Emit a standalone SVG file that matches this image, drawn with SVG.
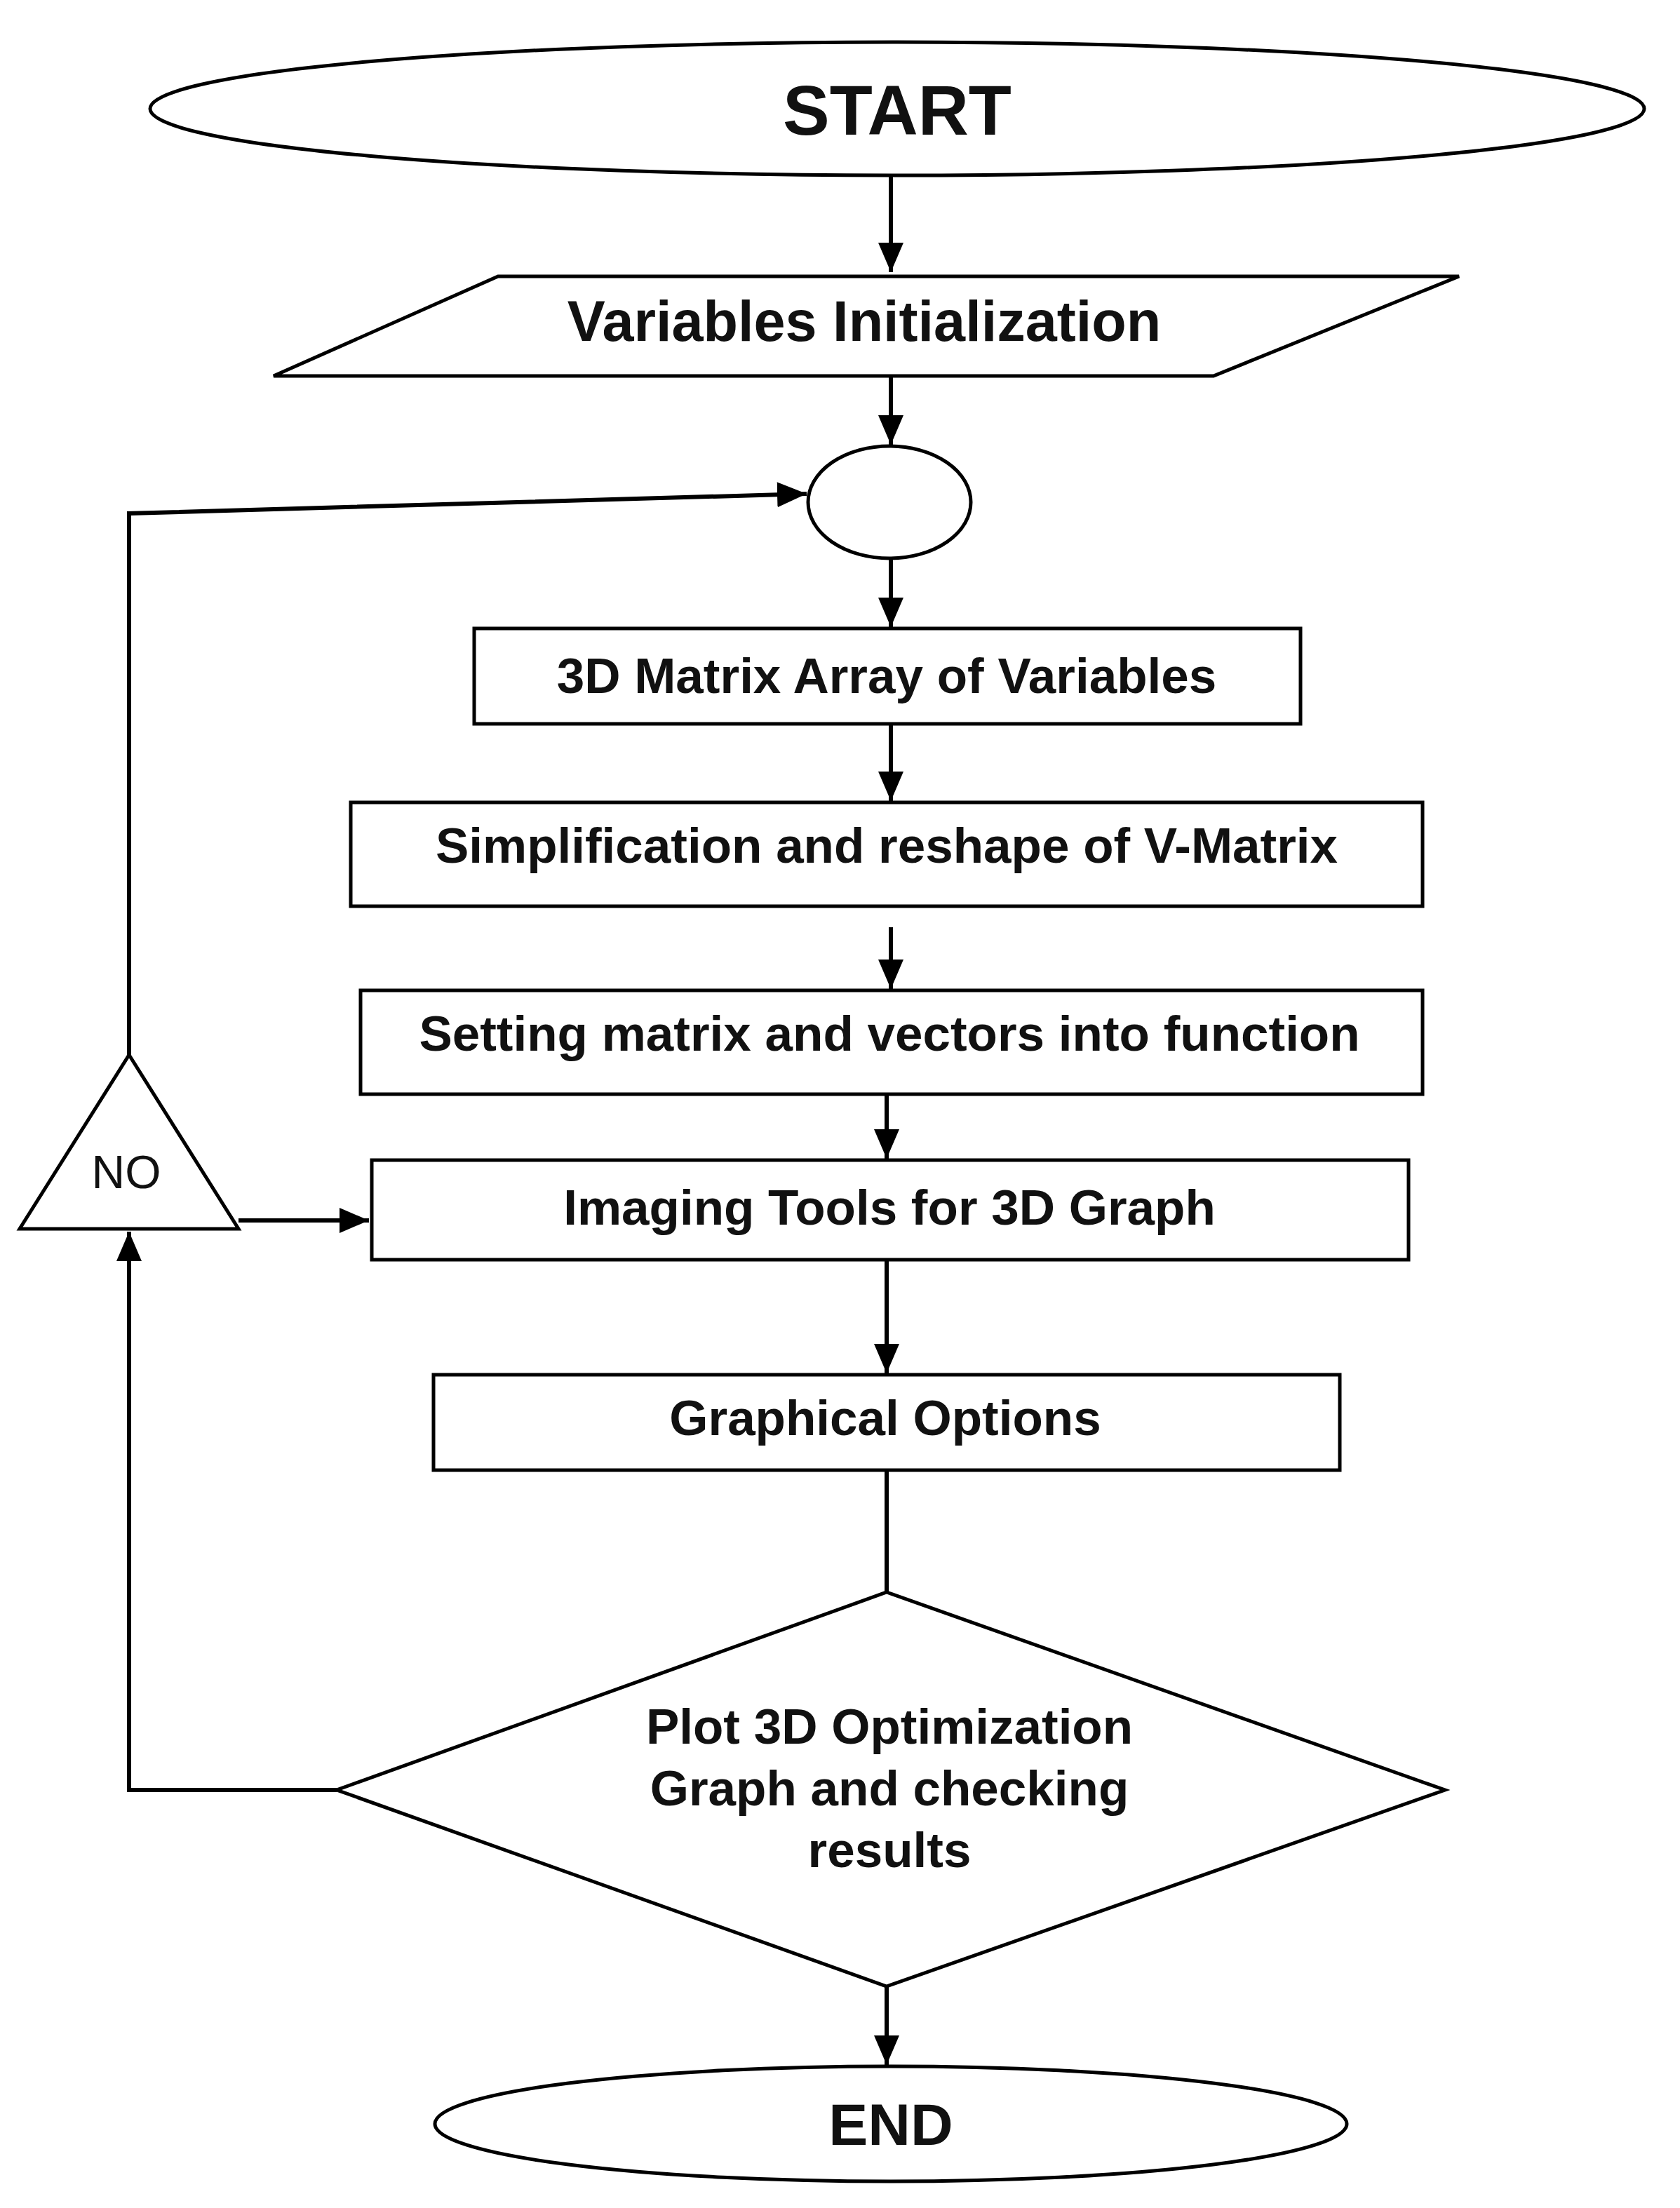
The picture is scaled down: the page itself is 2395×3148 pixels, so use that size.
<svg xmlns="http://www.w3.org/2000/svg" width="2395" height="3148" viewBox="0 0 2395 3148">
<style>
.s{fill:#fff;stroke:#000;stroke-width:5}
.c{fill:none;stroke:#000;stroke-width:6}
text{font-family:"Liberation Sans",Arial,sans-serif;font-weight:bold;text-anchor:middle;fill:#111}
.t{font-size:71px}
</style>
<defs><marker id="a" markerWidth="8" markerHeight="8" refX="7" refY="4" orient="auto" markerUnits="strokeWidth"><path d="M0,1 L7,4 L0,7 z" fill="#000"/></marker></defs>
<rect width="2395" height="3148" fill="#fff"/>
<g id="connectors">
<line class="c" x1="1270" y1="250" x2="1270" y2="388" marker-end="url(#a)"/>
<line class="c" x1="1270" y1="536" x2="1270" y2="634" marker-end="url(#a)"/>
<line class="c" x1="1270" y1="796" x2="1270" y2="894" marker-end="url(#a)"/>
<line class="c" x1="1270" y1="1032" x2="1270" y2="1142" marker-end="url(#a)"/>
<line class="c" x1="1270" y1="1322" x2="1270" y2="1410" marker-end="url(#a)"/>
<line class="c" x1="1264" y1="1560" x2="1264" y2="1652" marker-end="url(#a)"/>
<line class="c" x1="1264" y1="1796" x2="1264" y2="1958" marker-end="url(#a)"/>
<line class="c" x1="1264" y1="2096" x2="1264" y2="2270"/>
<line class="c" x1="1264" y1="2832" x2="1264" y2="2944" marker-end="url(#a)"/>
<polyline class="c" points="480,2552 184,2552 184,1756" marker-end="url(#a)"/>
<polyline class="c" points="184,1504 184,732 1150,704" marker-end="url(#a)"/>
<line class="c" x1="340" y1="1740" x2="526" y2="1740" marker-end="url(#a)"/>
</g>
<g id="start"><ellipse class="s" cx="1279" cy="155" rx="1065" ry="95"/><text x="1279" y="192" style="font-size:100px">START</text></g>
<g id="init"><polygon class="s" points="710,394 2080,394 1730,536 390,536"/><text x="1232" y="486" style="font-size:81px">Variables Initialization</text></g>
<g id="connector-circle"><ellipse class="s" cx="1268" cy="716" rx="116" ry="80"/></g>
<g id="box1"><rect class="s" x="676" y="896" width="1178" height="136"/><text class="t" x="1264" y="988">3D Matrix Array of Variables</text></g>
<g id="box2"><rect class="s" x="500" y="1144" width="1528" height="148"/><text class="t" x="1264" y="1230">Simplification and reshape of V-Matrix</text></g>
<g id="box3"><rect class="s" x="514" y="1412" width="1514" height="148"/><text class="t" x="1268" y="1498">Setting matrix and vectors into function</text></g>
<g id="box4"><rect class="s" x="530" y="1654" width="1478" height="142"/><text class="t" x="1268" y="1746">Imaging Tools for 3D Graph</text></g>
<g id="box5"><rect class="s" x="618" y="1960" width="1292" height="136"/><text class="t" x="1262" y="2046">Graphical Options</text></g>
<g id="decision"><polygon class="s" points="1264,2270 2060,2552 1264,2832 480,2552"/>
<text class="t" x="1268" y="2486">Plot 3D Optimization</text><text class="t" x="1268" y="2574">Graph and checking</text><text class="t" x="1268" y="2662">results</text></g>
<g id="no"><polygon class="s" points="184,1504 340,1752 28,1752"/><text x="180" y="1694" style="font-size:66px;font-weight:normal">NO</text></g>
<g id="end"><ellipse class="s" cx="1270" cy="3028" rx="650" ry="82"/><text x="1270" y="3058" style="font-size:84px">END</text></g>
</svg>
